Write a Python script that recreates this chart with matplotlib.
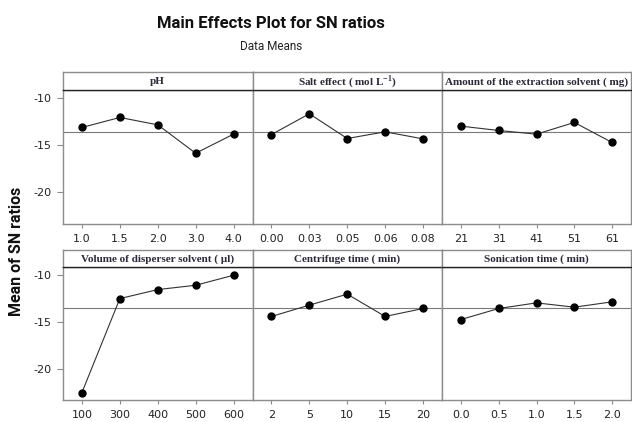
import numpy as np
import matplotlib
matplotlib.use("Agg")
import matplotlib.pyplot as plt
from matplotlib import font_manager

# factor names (strip titles) and level labels
factors = ['pH', 'Salt effect ( mol L$^{\\mathregular{-1}}$)', 'Amount of the extraction solvent ( mg)',
           'Volume of disperser solvent ( \u00b5l)', 'Centrifuge time ( min)', 'Sonication time ( min)']
ph_levels = ['1.0', '1.5', '2.0', '3.0', '4.0']
salt_levels = ['0.00', '0.03', '0.05', '0.06', '0.08']
amount_levels = ['21', '31', '41', '51', '61']
volume_levels = ['100', '300', '400', '500', '600']
centrifuge_levels = ['2', '5', '10', '15', '20']
sonication_levels = ['0.0', '0.5', '1.0', '1.5', '2.0']

# mean SN ratios
ph_sn = [-13.12, -12.06, -12.84, -15.85, -13.83]
salt_sn = [-13.87, -11.67, -14.29, -13.58, -14.33]
amount_sn = [-12.98, -13.44, -13.83, -12.59, -14.71]
volume_sn = [-22.55, -12.52, -11.56, -11.10, -10.03]
centrifuge_sn = [-14.43, -13.22, -12.05, -14.43, -13.58]
sonication_sn = [-14.76, -13.58, -12.98, -13.44, -12.87]
grand_mean = -13.55

levels = [ph_levels, salt_levels, amount_levels, volume_levels, centrifuge_levels, sonication_levels]
values = [ph_sn, salt_sn, amount_sn, volume_sn, centrifuge_sn, sonication_sn]

# narrow sans for the titles if there is one
names = {f.name for f in font_manager.fontManager.ttflist}
narrow = 'Liberation Sans Narrow' if 'Liberation Sans Narrow' in names else 'Roboto'
tsize = 12.5 if narrow == 'Liberation Sans Narrow' else 12

W, H = 632, 422
fig = plt.figure(figsize=(W / 100, H / 100), dpi=100)

col_edges = [63, 252.5, 442, 631]
rows = [(90, 224, 72), (267, 400, 250)]   # plot top, plot bottom, strip top (pixels)
border = '#8c8c8c'

for i in range(6):
    r, c = divmod(i, 3)
    ptop, pbot, stop = rows[r]
    x0, x1 = col_edges[c], col_edges[c + 1]
    ax = fig.add_axes([x0 / W, 1 - pbot / H, (x1 - x0) / W, (pbot - ptop) / H])
    xs = np.arange(len(levels[i]))
    ax.axhline(grand_mean, color='#7a7a7a', lw=0.8, zorder=1)
    ax.plot(xs, values[i], '-', color='#333333', lw=0.8, zorder=2)
    ax.plot(xs, values[i], 'o', color='black', ms=5, zorder=3)
    ax.set_xlim(-0.5, 4.5)
    ax.set_ylim(-23.35, -9.15)
    ax.set_xticks(xs)
    ax.set_xticklabels(levels[i], fontsize=8, color='#222222')
    ax.tick_params(axis='x', direction='out', length=3, color=border, pad=4)
    if c == 0:
        ax.set_yticks([-10, -15, -20])
        ax.set_yticklabels(['-10', '-15', '-20'], fontsize=8, color='#222222')
        ax.tick_params(axis='y', direction='out', length=4, color=border, pad=4)
    else:
        ax.set_yticks([])
    for s in ax.spines.values():
        s.set_color(border)
        s.set_linewidth(1.0)

    # strip with factor name
    sax = fig.add_axes([x0 / W, 1 - ptop / H, (x1 - x0) / W, (ptop - stop) / H])
    sax.set_xticks([])
    sax.set_yticks([])
    for s in sax.spines.values():
        s.set_color(border)
        s.set_linewidth(1.0)
    sax.spines['bottom'].set_color('#222222')
    sax.text(0.5, 0.45, factors[i], ha='center', va='center', transform=sax.transAxes,
             fontsize=8, fontweight='bold', family='Liberation Serif', color='#2a2a3a')

fig.text(271 / W, 1 - 24 / H, 'Main Effects Plot for SN ratios', ha='center', va='center',
         fontsize=tsize, fontweight='bold', family=narrow, color='#111111')
fig.text(271 / W, 1 - 47 / H, 'Data Means', ha='center', va='center', fontsize=8.5,
         family=narrow, color='#222222')
fig.text(17 / W, 1 - 251 / H, 'Mean of SN ratios', ha='center', va='center', rotation=90,
         fontsize=11.5, fontweight='bold', family=narrow, color='#111111')

fig.savefig('out.png', dpi=100)
